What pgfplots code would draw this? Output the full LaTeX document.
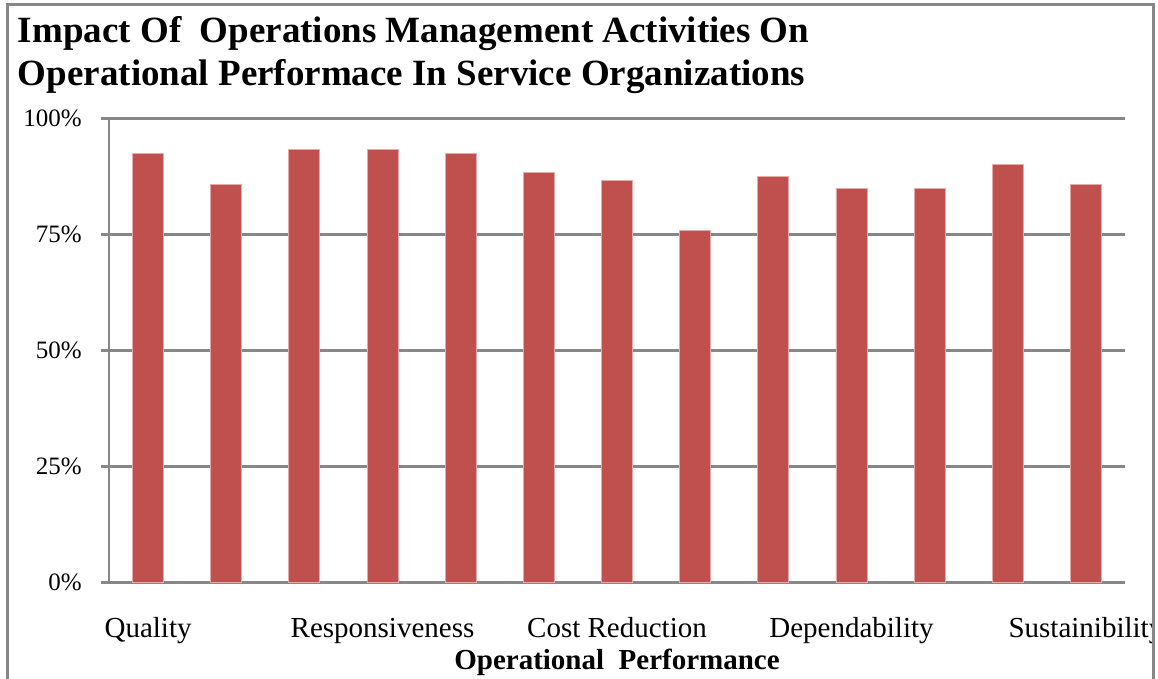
\documentclass[border=0pt]{standalone}
\usepackage{pgfplots}
\pgfplotsset{compat=1.18}
\usepackage{fontspec}
\setmainfont{Liberation Serif}
\definecolor{barred}{HTML}{C0504D}
\definecolor{bared}{HTML}{E6AAAA}
\definecolor{gridgray}{HTML}{878787}
\begin{document}
\begin{tikzpicture}
\useasboundingbox (0,0) rectangle (579bp,-339.5bp);
\node[anchor=base west, inner sep=0pt, font=\fontsize{18.5bp}{22bp}\selectfont\bfseries] at (8.8bp,-21bp) {Impact Of\ \ Operations Management Activities On};
\node[anchor=base west, inner sep=0pt, font=\fontsize{18.5bp}{22bp}\selectfont\bfseries] at (8.8bp,-42.5bp) {Operational Performace In Service Organizations};
\begin{axis}[
  at={(54.5bp,-291.2bp)}, anchor=south west,
  scale only axis, width=508bp, height=232bp,
  ybar, bar width=15.5bp,
  xmin=0.5, xmax=13.5, ymin=0, ymax=100,
  axis x line*=bottom, axis y line*=left,
  axis line style={draw=gridgray, line width=1.2bp, -},
  xtick={1,4,7,10,13},
  xticklabels={Quality,Responsiveness,Cost Reduction,Dependability,Sustainibility},
  xtick style={draw=none},
  xticklabel style={anchor=base, yshift=-23.5bp, inner sep=0pt, font=\fontsize{14.5bp}{17bp}\selectfont},
  ytick={0,25,50,75,100},
  yticklabels={0\%,25\%,50\%,75\%,100\%},
  ytick style={draw=gridgray, line width=1.2bp},
  tick align=outside, major tick length=4bp,
  yticklabel style={anchor=east, inner sep=0pt, xshift=-9.5bp, font=\fontsize{12.5bp}{15bp}\selectfont},
  ymajorgrids, grid style={draw=gridgray, line width=1.2bp},
  xlabel={Operational\ \ Performance},
  xlabel style={at={(axis description cs:0.5,0)}, anchor=base, yshift=-43.5bp, inner sep=0pt, font=\fontsize{14.5bp}{17bp}\selectfont\bfseries},
  clip=false,
]
\addplot[fill=barred, draw=bared, line width=0.4bp] coordinates {
(1,92.5) (2,85.8) (3,93.4) (4,93.4) (5,92.5) (6,88.4) (7,86.6)
(8,75.9) (9,87.5) (10,85.0) (11,84.9) (12,90.0) (13,85.8)};
\end{axis}
\fill[white] (577.4bp,0) rectangle (579.5bp,-340bp);
\draw[gridgray, line width=1.25bp] (3.65bp,-340bp) -- (3.65bp,-2.15bp) -- (576.75bp,-2.15bp) -- (576.75bp,-340bp);
\end{tikzpicture}
\end{document}
